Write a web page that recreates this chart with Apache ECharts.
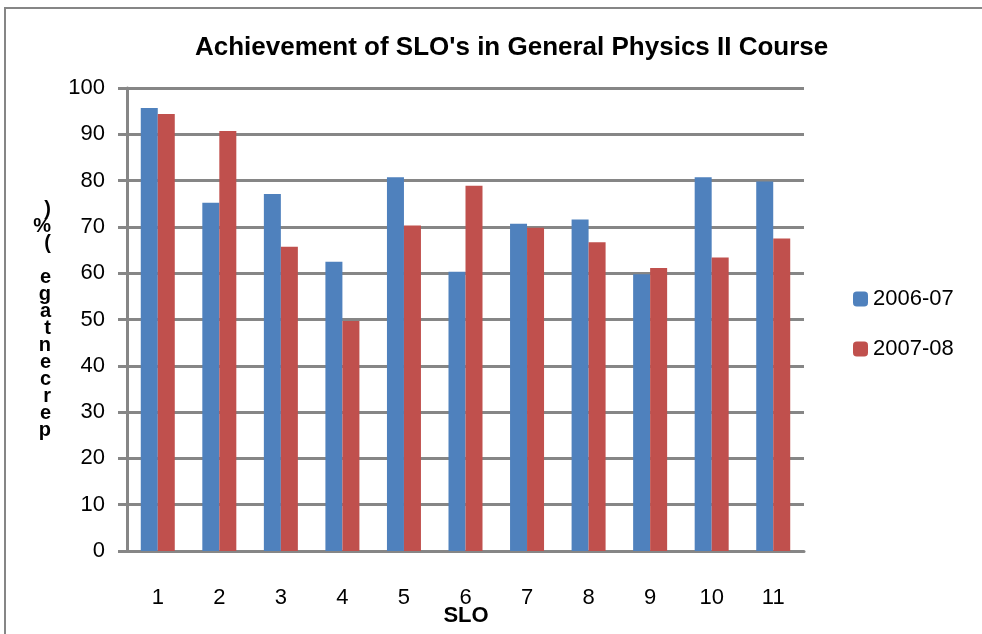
<!DOCTYPE html>
<html>
<head>
<meta charset="utf-8">
<script src="https://cdn.jsdelivr.net/npm/echarts@6/dist/echarts.min.js"></script>
<style>
html, body { margin: 0; padding: 0; background: #fff; }
#chart { width: 982px; height: 634px; }
</style>
</head>
<body>
<div id="chart"></div>
<script>
var categories = ['1', '2', '3', '4', '5', '6', '7', '8', '9', '10', '11'];
var series2006 = [95.7, 75.2, 77.1, 62.5, 80.7, 60.3, 70.7, 71.6, 59.8, 80.7, 79.8];
var series2007 = [94.4, 90.7, 65.7, 49.7, 70.3, 78.9, 69.8, 66.7, 61.1, 63.4, 67.5];
var seriesNames = ['2006-07', '2007-08'];
var yTicks = [0, 10, 20, 30, 40, 50, 60, 70, 80, 90, 100];
var xTitle = 'SLO';

var fontMain = "'Liberation Sans Narrow', 'Liberation Sans', Arial, sans-serif";
var gridGray = '#868686';

// y axis title is drawn as stacked glyphs, like the original
var yTitle = 'percentage (%)'.split('').reverse().join('\n');

var option = {
	backgroundColor : '#fff',
	animation : false,
	title : {
		text : "Achievement of SLO's in General Physics II Course",
		left : 190,
		top : 30,
		textStyle : {
			fontFamily : fontMain,
			fontSize : 26,
			fontWeight : 'bold',
			color : '#000'
		}
	},
	graphic : [ {
		type : 'rect',
		shape : { x : 5, y : 8, width : 1100, height : 800 },
		style : { fill : 'none', stroke : gridGray, lineWidth : 2 }
	}, {
		// x axis title sits tight under the tick labels
		type : 'text',
		x : 466,
		y : 616,
		style : {
			text : xTitle,
			align : 'center',
			verticalAlign : 'middle',
			font : 'bold 22px ' + fontMain,
			fill : '#000'
		}
	} ],
	legend : {
		orient : 'vertical',
		left : 848,
		top : 283,
		itemWidth : 15,
		itemHeight : 15,
		itemGap : 28,
		textStyle : {
			fontFamily : fontMain,
			fontSize : 22,
			color : '#000'
		},
		data : seriesNames
	},
	grid : {
		left : 127,
		right : 178,
		top : 88,
		bottom : 83,
		outerBoundsMode : 'none'
	},
	xAxis : {
		type : 'category',
		data : categories,
		axisLine : {
			lineStyle : { color : gridGray, width : 3 }
		},
		axisTick : {
			length : 11,
			lineStyle : { color : gridGray, width : 3 }
		},
		axisLabel : {
			margin : 36,
			fontFamily : fontMain,
			fontSize : 22,
			color : '#000'
		}
	},
	yAxis : {
		type : 'value',
		min : yTicks[0],
		max : yTicks[yTicks.length - 1],
		interval : 10,
		name : yTitle,
		nameLocation : 'middle',
		nameRotate : 0,
		nameGap : 76,
		nameTextStyle : {
			fontFamily : fontMain,
			fontSize : 20,
			fontWeight : 'bold',
			lineHeight : 17,
			color : '#000'
		},
		axisLine : {
			show : true,
			lineStyle : { color : gridGray, width : 3 }
		},
		axisTick : {
			show : true,
			length : 9,
			lineStyle : { color : gridGray, width : 3 }
		},
		axisLabel : {
			margin : 22,
			fontFamily : fontMain,
			fontSize : 22,
			color : '#000'
		},
		splitLine : {
			lineStyle : { color : gridGray, width : 3 }
		}
	},
	series : [ {
		name : seriesNames[0],
		type : 'bar',
		data : series2006,
		barWidth : 17,
		barGap : '0%',
		itemStyle : { color : '#4F81BD' }
	}, {
		name : seriesNames[1],
		type : 'bar',
		data : series2007,
		barWidth : 17,
		barGap : '0%',
		itemStyle : { color : '#C0504D' }
	} ]
};

var myChart = echarts.init(document.getElementById('chart'));
myChart.setOption(option);
</script>
</body>
</html>
